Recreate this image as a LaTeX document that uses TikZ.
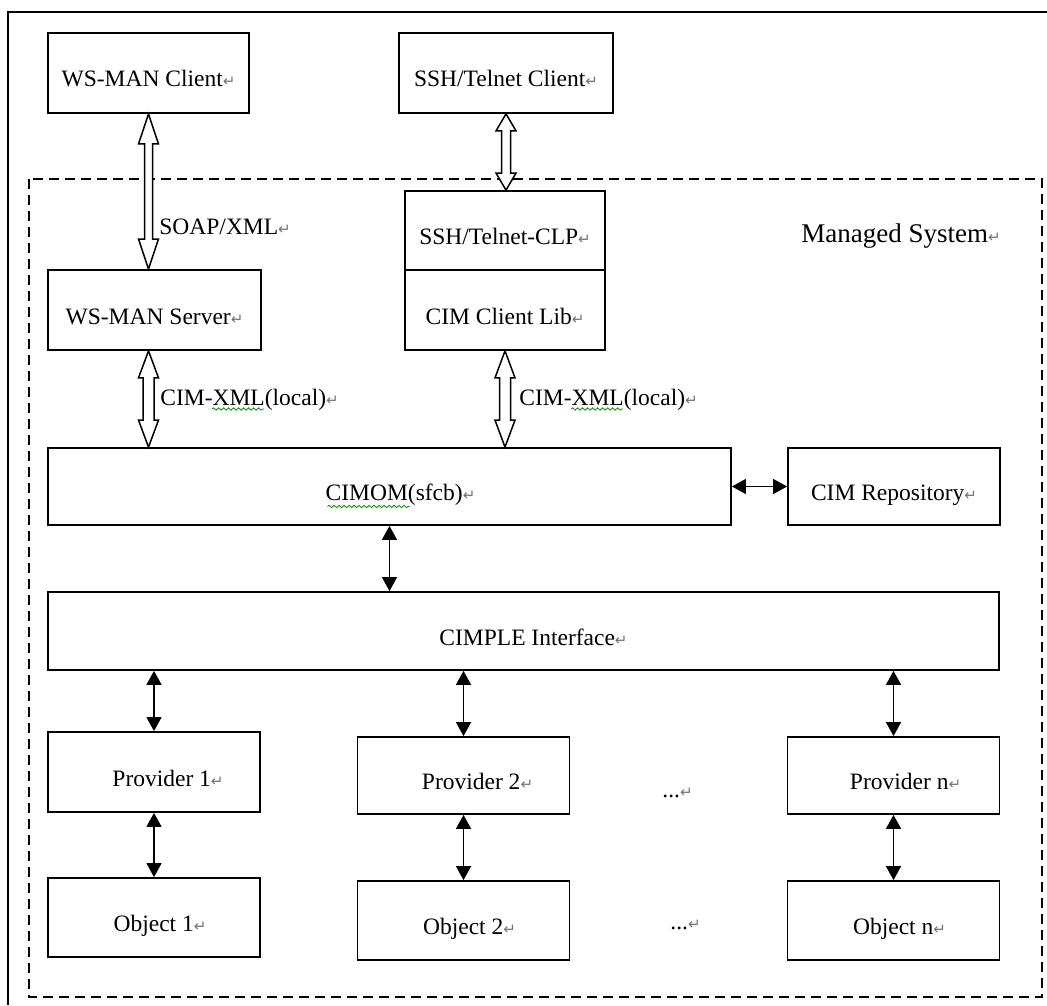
\documentclass[tikz,border=0pt]{standalone}
\usepackage{fontspec}
\setmainfont{Liberation Serif}
\newfontfamily\symfont{DejaVu Sans}
\usepackage{xcolor}
\usetikzlibrary{positioning,calc}
\usetikzlibrary{arrows.meta}
\usetikzlibrary{decorations.pathmorphing}

\newcommand\retmark{{\symfont\fontsize{7.5}{7.5}\selectfont\color{black!55}↵}}
\newcommand\hollowarrow[4]{%
  \draw[hollow] (#1) -- ++(10,#3) -- ++(-10+#4,0) -- ($(#2)+(#4,-#3)$) -- ++(10-#4,0) -- (#2)
    -- ++(-10,-#3) -- ++(10-#4,0) -- ($(#1)+(-#4,#3)$) -- ++(-10+#4,0) -- cycle;}

\begin{document}
\begin{tikzpicture}[x=0.5pt,y=-0.5pt,on grid,font=\fontsize{11.75}{14}\selectfont,
    box/.style={draw,line width=0.9pt,minimum width=106pt,minimum height=40pt,
      text height=1.4em,text depth=0pt,inner sep=0pt},
    shove/.style={execute at begin node={\hspace*{#1}}},
    hollow/.style={draw,line width=0.75pt,fill=white,line join=miter},
    twoway/.style={{Triangle[length=7pt,width=7.5pt]}-{Triangle[length=7pt,width=7.5pt]},line width=0.75pt},
    squiggle/.style={draw=green!55!black,line width=0.4pt,decorate,
      decoration={snake,amplitude=0.6pt,segment length=2.5pt}},
    lbl/.style={anchor=west,inner sep=0pt}]
   \useasboundingbox (0,0) rectangle (1047,1005);
   \draw[line width=1pt] (7.5,1005) -- (7.5,12) -- (1047,12);
   \draw[dash pattern=on 5pt off 3pt,line width=0.75pt] (29,179) rectangle (1042,997);

   \node[box,minimum width=100.5pt] (wsclient) at (148.5,73) {WS-MAN Client\retmark};
   \node[box,minimum width=107pt] (sshclient) at (506,73) {SSH/Telnet Client\retmark};
   \node[box,minimum width=106.5pt] (wsserver) at (154.5,310) {WS-MAN Server\retmark};
   \node[box,minimum width=100pt,minimum height=39.5pt] (clp) at (505,230.5) {SSH/Telnet-CLP\retmark};
   \node[box,minimum width=100pt,below=39.75pt of clp] (clientlib) {CIM Client Lib\retmark};
   \node[box,minimum width=341.5pt,minimum height=38.5pt,shove=11pt] (cimom) at (389.5,486.5) {CIMOM(sfcb)\retmark};
   \node[box,minimum height=38.5pt] (repo) at (894,486.5) {CIM Repository\retmark};
   \node[box,minimum width=475.5pt,minimum height=39pt,shove=10pt] (cimple) at (523.5,631) {CIMPLE Interface\retmark};
   \node[box,shove=14pt] (prov1) at (154,772) {Provider 1\retmark};
   \node[box,minimum height=38.5pt,shove=14pt] (prov2) at (463.5,775.5) {Provider 2\retmark};
   \node[box,minimum height=38.5pt,shove=12pt] (provn) at (893.5,775.5) {Provider n\retmark};
   \node[box,minimum height=39.5pt,shove=6pt,below=72.75pt of prov1] (obj1) {Object 1\retmark};
   \node[box,minimum height=39.5pt,shove=6pt,below=72.5pt of prov2] (obj2) {Object 2\retmark};
   \node[box,minimum height=39.5pt,shove=6pt,below=72.5pt of provn] (objn) {Object n\retmark};

   \node[lbl] (soap) at (159,227) {SOAP/XML\retmark};
   \node[lbl] (xmlleft) at (160,400) {CIM-XML(local)\retmark};
   \node[lbl] (xmlright) at (519,400) {CIM-XML(local)\retmark};
   \node[lbl,font=\fontsize{13.5}{16}\selectfont] (managed) at (801,236) {Managed System\retmark};
   \node[lbl] (dotsup) at (662,793) {...\retmark};
   \node[lbl] (dotsdown) at (670,925) {...\retmark};

   \draw[squiggle] ($(xmlleft.west)+(52,9)$) -- ++(52,0);
   \draw[squiggle] ($(xmlright.west)+(52,9)$) -- ++(52,0);
   \draw[squiggle] ($(cimom.center)+(-62,20)$) -- ++(82,0);

   \coordinate (wsin) at (wsclient.south |- wsserver.north);
   \coordinate (sshin) at (sshclient.south |- clp.north);
   \coordinate (wsout) at (wsserver.south -| wsclient.south);
   \coordinate (wscim) at (wsout |- cimom.north);
   \coordinate (libcim) at (clientlib.south |- cimom.north);
   \hollowarrow{wsclient.south}{wsin}{30}{4}
   \hollowarrow{sshclient.south}{sshin}{17}{4.5}
   \hollowarrow{wsout}{wscim}{27}{5.5}
   \hollowarrow{clientlib.south}{libcim}{27}{5.5}

   \draw[twoway] (cimom) -- (repo);
   \draw[twoway] (cimom.south) -- (cimom.south |- cimple.north);
   \draw[twoway] (prov1.north |- cimple.south) -- (prov1);
   \draw[twoway] (prov2.north |- cimple.south) -- (prov2);
   \draw[twoway] (provn.north |- cimple.south) -- (provn);
   \draw[twoway] (prov1) -- (obj1);
   \draw[twoway] (prov2) -- (obj2);
   \draw[twoway] (provn) -- (objn);
\end{tikzpicture}
\end{document}
